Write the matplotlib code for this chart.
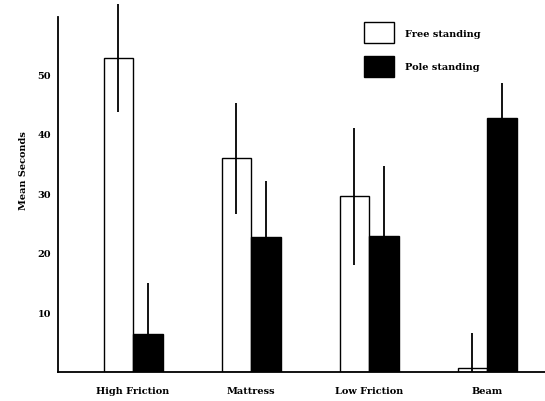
import numpy as np
import matplotlib
matplotlib.use('Agg')
import matplotlib.pyplot as plt
from matplotlib.patches import Patch

# values
surfaces = ['High Friction', 'Mattress', 'Low Friction', 'Beam']
free_mean = [52.7, 35.9, 29.5, 0.7]
free_err = [9.0, 9.3, 11.5, 5.8]
pole_mean = [6.3, 22.7, 22.9, 42.6]
pole_err = [8.7, 9.3, 11.7, 5.9]
yticks = [10, 20, 30, 40, 50]

plt.rcParams['font.family'] = ['DejaVu Serif']
plt.rcParams['font.weight'] = 'bold'

fig = plt.figure(figsize=(5.45, 4.02), dpi=100)
ax = fig.add_axes([58 / 545, 29 / 402, 487 / 545, 355 / 402])

x = np.arange(len(surfaces))
w = 0.25


def err_pair(mean, err):
    # error lines stop at the baseline
    lo = [min(e, m) for m, e in zip(mean, err)]
    return [lo, err]


ax.bar(x - w / 2, free_mean, w, color='white', edgecolor='black', linewidth=1.0, zorder=2)
ax.bar(x + w / 2, pole_mean, w, color='black', edgecolor='black', linewidth=1.0, zorder=2)
ax.errorbar(x - w / 2, free_mean, yerr=err_pair(free_mean, free_err), fmt='none',
            ecolor='black', elinewidth=1.3, capsize=0, zorder=3, clip_on=False)
ax.errorbar(x + w / 2, pole_mean, yerr=err_pair(pole_mean, pole_err), fmt='none',
            ecolor='black', elinewidth=1.3, capsize=0, zorder=3, clip_on=False)

ax.set_xlim(-0.636, 3.49)
ax.set_ylim(0, 59.6)
ax.set_yticks(yticks)
ax.set_yticklabels([str(v) for v in yticks], fontsize=7, fontweight='bold')
ax.set_xticks(x)
ax.set_xticklabels(surfaces, fontsize=7, fontweight='bold')
ax.tick_params(axis='both', length=0)
ax.tick_params(axis='y', pad=5)
ax.tick_params(axis='x', pad=10)

for s in ['top', 'right']:
    ax.spines[s].set_visible(False)
ax.spines['left'].set_linewidth(1.3)
ax.spines['bottom'].set_linewidth(1.3)

ax.set_ylabel('Mean Seconds', fontsize=7, fontweight='bold')
ax.yaxis.set_label_coords(-0.062, 0.57)

handles = [Patch(facecolor='white', edgecolor='black', linewidth=1.0),
           Patch(facecolor='black', edgecolor='black', linewidth=1.0)]
ax.legend(handles, ['Free standing', 'Pole standing'], loc='upper left',
          bbox_to_anchor=((364 - 58) / 487, (373 - 23) / 355), frameon=False,
          fontsize=7, handlelength=3.1, handleheight=3.0, labelspacing=1.3,
          handletextpad=1.1, borderaxespad=0, borderpad=0)

fig.savefig('out.png', dpi=100)
